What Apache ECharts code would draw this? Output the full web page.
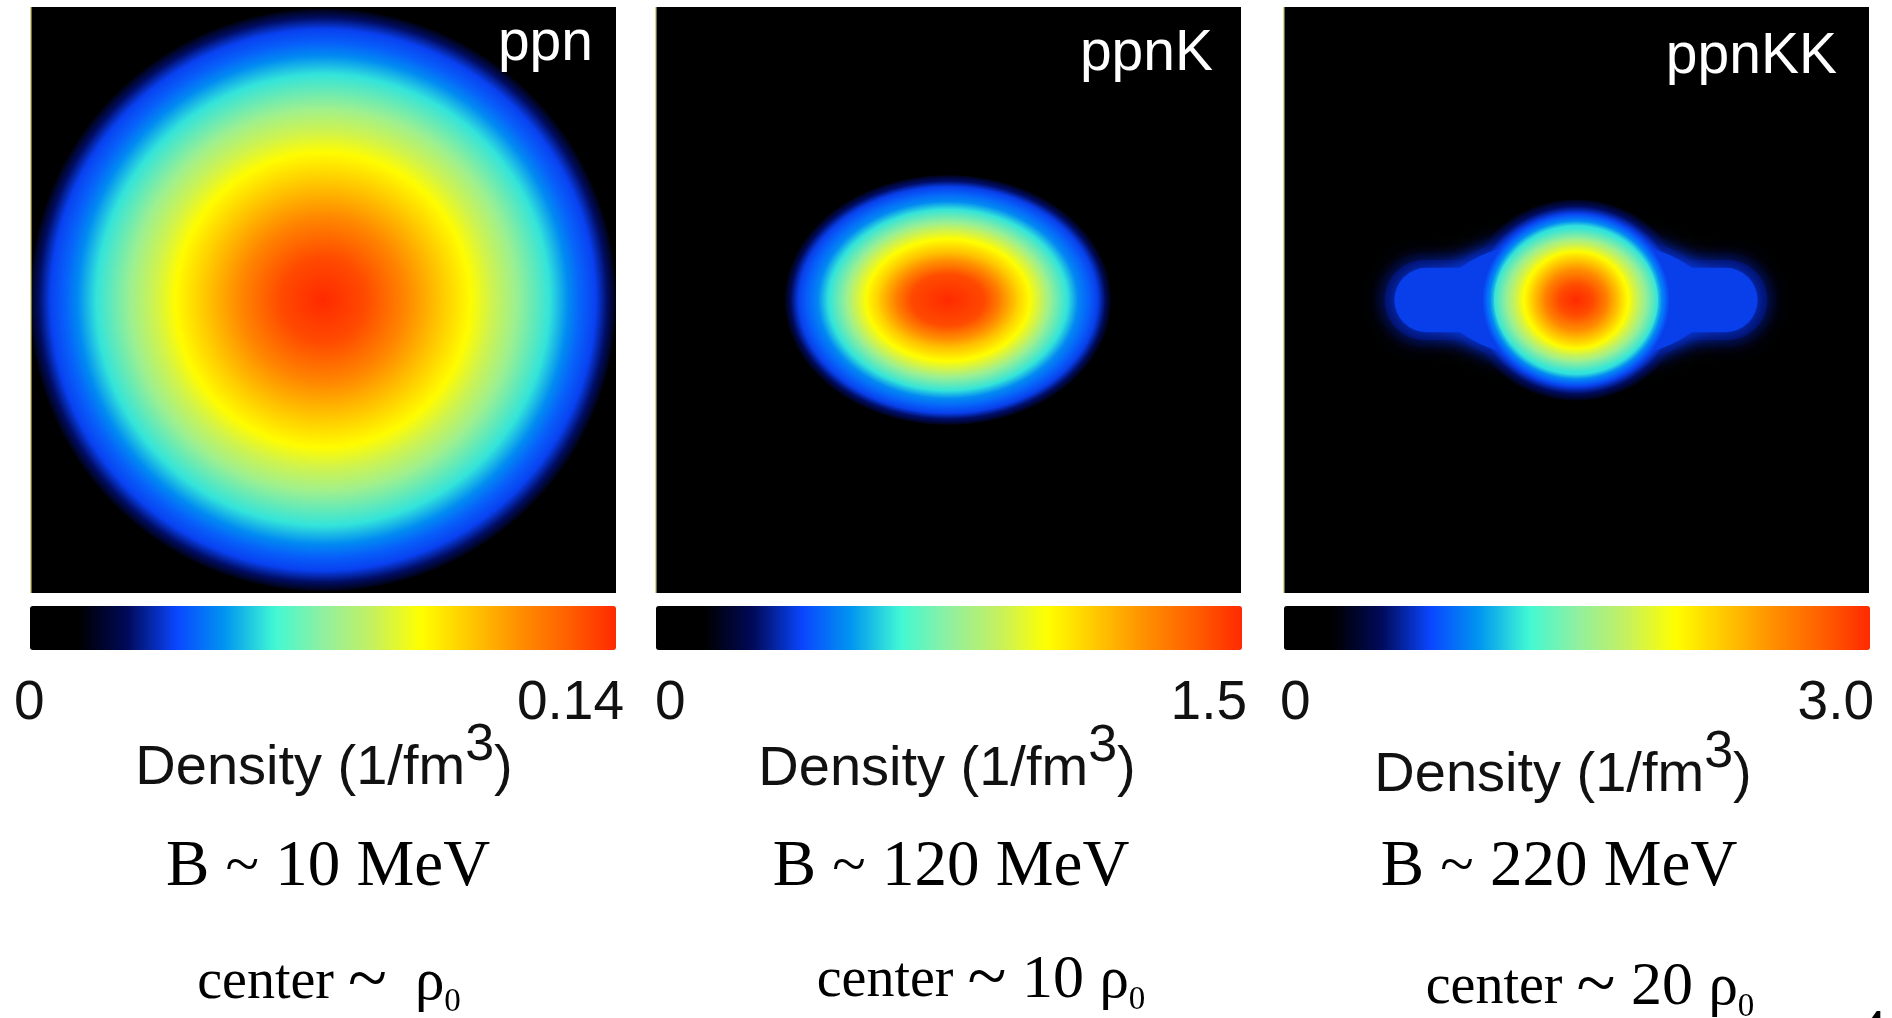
<!DOCTYPE html>
<html>
<head>
<meta charset="utf-8">
<script src="https://cdn.jsdelivr.net/npm/echarts@6/dist/echarts.min.js"></script>
<style>
html, body { margin: 0; padding: 0; background: #ffffff; }
#chart { width: 1892px; height: 1018px; }
</style>
</head>
<body>
<div id="chart"></div>
<script>
// ---------------- data ----------------
const panelNames = ['ppn', 'ppnK', 'ppnKK'];
const densityMax = [0.14, 1.5, 3.0];
const tickLabels = [['0', '0.14'], ['0', '1.5'], ['0', '3.0']];
const axisTitle = 'Density (1/fm';
const axisTitleSup = '3';
const bindingLabels = ['B ~ 10 MeV', 'B ~ 120 MeV', 'B ~ 220 MeV'];
const centerMultiplier = ['', '10', '20'];

// density contour levels (1/fm^3) and the half-width / half-height (fm) of each contour
const ppnLevels = [0.014, 0.024, 0.034, 0.039, 0.045, 0.056, 0.073, 0.084, 0.094, 0.105, 0.119, 0.133, 0.14];
const ppnHalfW  = [3.00, 2.91, 2.79, 2.64, 2.51, 2.32, 1.97, 1.72, 1.51, 1.21, 0.84, 0.43, 0];
const ppnHalfH  = [2.98, 2.89, 2.77, 2.63, 2.50, 2.31, 1.97, 1.72, 1.51, 1.21, 0.84, 0.43, 0];

const ppnKLevels = [0.15, 0.255, 0.36, 0.42, 0.48, 0.60, 0.78, 0.90, 1.005, 1.125, 1.275, 1.425, 1.5];
const ppnKHalfW  = [1.67, 1.61, 1.53, 1.43, 1.33, 1.22, 1.04, 0.94, 0.84, 0.70, 0.55, 0.39, 0];
const ppnKHalfH  = [1.28, 1.22, 1.16, 1.09, 1.01, 0.93, 0.79, 0.71, 0.62, 0.50, 0.38, 0.25, 0];

const ppnKKLevels = [0.30, 0.51, 0.72, 0.84, 0.96, 1.20, 1.56, 1.80, 2.01, 2.25, 2.55, 2.85, 3.0];
const ppnKKHalfW  = [1.12, 1.04, 0.96, 0.92, 0.88, 0.84, 0.70, 0.61, 0.53, 0.44, 0.33, 0.18, 0];
const ppnKKHalfH  = [1.03, 0.96, 0.89, 0.85, 0.81, 0.74, 0.63, 0.56, 0.50, 0.41, 0.29, 0.15, 0];
// horizontal side lobes of the low-density contours, and the waist joining them to the core
const ppnKKLobeW  = [2.05, 1.96, 1.86];
const ppnKKLobeH  = [0.49, 0.41, 0.33];
const ppnKKWaistW = [1.50, 1.44, 1.38];
const ppnKKWaistH = [0.78, 0.71, 0.64];

// ---------------- styling ----------------
const jetColors = ['#000000', '#000000', '#000a5a', '#0a46ff', '#0096f0', '#40f8d4', '#90f0a0',
                   '#c4f060', '#ffff00', '#ffc800', '#ff9000', '#ff6000', '#ff2a00'];
const panelLeft = [30, 655, 1283];
const panelTop = 7, panelSize = 586;
const cbLeft = [30, 656, 1284], cbTop = 606, cbThick = 44, cbLen = 586;
const SANS = 'Liberation Sans', SERIF = 'Liberation Serif';

const panelData = [
  [ppnLevels, ppnHalfW, ppnHalfH, [], [], [], []],
  [ppnKLevels, ppnKHalfW, ppnKHalfH, [], [], [], []],
  [ppnKKLevels, ppnKKHalfW, ppnKKHalfH, ppnKKLobeW, ppnKKLobeH, ppnKKWaistW, ppnKKWaistH]
].map(([lv, hw, hh, lw, lh, ww, wh]) =>
  lv.map((v, k) => [v, hw[k], hh[k], lw[k] || 0, lh[k] || 0, ww[k] || 0, wh[k] || 0]));

function renderContour(params, api) {
  const i = params.dataIndexInside;
  const n = params.dataInsideLength;
  const c = api.coord([0, 0]);
  const sz = api.size([api.value(1), api.value(2)]);
  const rx = sz[0], ry = sz[1];
  const color = api.visual('color');
  const children = [];
  const lw = api.value(3), lh = api.value(4);
  if (lw > 0 && lh > 0) {
    const ls = api.size([lw, lh]);
    children.push({
      type: 'rect',
      shape: { x: c[0] - ls[0], y: c[1] - ls[1], width: 2 * ls[0], height: 2 * ls[1], r: ls[1] },
      style: { fill: color, shadowBlur: 18, shadowColor: color }
    });
  }
  const ww = api.value(5), wh = api.value(6);
  if (ww > 0 && wh > 0) {
    const ws = api.size([ww, wh]);
    children.push({
      type: 'ellipse',
      shape: { cx: c[0], cy: c[1], rx: ws[0], ry: ws[1] },
      style: { fill: color, shadowBlur: 18, shadowColor: color }
    });
  }
  if (rx > 0 && ry > 0) {
    let nextColor = color, t = 0;
    if (i + 1 < n) {
      nextColor = api.visual('color', i + 1);
      const ns = api.size([api.value(1, i + 1), api.value(2, i + 1)]);
      t = Math.min(0.999, (ns[0] / rx + ns[1] / ry) / 2);
    }
    children.push({
      type: 'circle',
      shape: { cx: 0, cy: 0, r: ry },
      x: c[0], y: c[1], scaleX: rx / ry, scaleY: 1,
      style: {
        fill: new echarts.graphic.RadialGradient(0.5, 0.5, 0.5, [
          { offset: 0, color: nextColor },
          { offset: t, color: nextColor },
          { offset: 1, color: color }
        ])
      }
    });
  }
  return { type: 'group', children: children };
}

const graphics = [];
// panel labels
const labelRight = [593, 1213, 1837];
const labelMid = [44, 54, 57];
panelNames.forEach((name, k) => {
  graphics.push({ type: 'text', silent: true, z: 100, style: {
    text: name, x: labelRight[k], y: labelMid[k], fill: '#ffffff',
    fontSize: 57, fontFamily: SANS, align: 'right', verticalAlign: 'middle' } });
});
// faint left edge lines of the panels
panelLeft.forEach((x) => {
  graphics.push({ type: 'rect', silent: true, z: 100,
    shape: { x: x, y: panelTop, width: 1.5, height: panelSize }, style: { fill: '#ddd48e' } });
});
// tick labels
const tickLeftX = [14, 655, 1280], tickRightX = [624, 1247, 1874], tickMid = 704;
tickLabels.forEach((tk, k) => {
  graphics.push({ type: 'text', silent: true, style: { text: tk[0], x: tickLeftX[k], y: tickMid,
    fill: '#111', fontSize: 55, fontFamily: SANS, align: 'left', verticalAlign: 'middle' } });
  graphics.push({ type: 'text', silent: true, style: { text: tk[1], x: tickRightX[k], y: tickMid,
    fill: '#111', fontSize: 55, fontFamily: SANS, align: 'right', verticalAlign: 'middle' } });
});
// density titles
const titleX = [324, 947, 1563], titleMid = [769, 770, 776];
titleX.forEach((x, k) => {
  graphics.push({ type: 'text', silent: true, style: {
    text: '{a|' + axisTitle + '}{s|' + axisTitleSup + '}{a|)}',
    x: x, y: titleMid[k], align: 'center', verticalAlign: 'middle',
    rich: {
      a: { fontSize: 56, fontFamily: SANS, fill: '#111', lineHeight: 56, verticalAlign: 'middle' },
      s: { fontSize: 52, fontFamily: SANS, fill: '#111', lineHeight: 52, padding: [0, 0, 46, 0], verticalAlign: 'middle' }
    } } });
});
// binding energies
const bX = [328, 951, 1559], bMid = 868;
bindingLabels.forEach((txt, k) => {
  const parts = txt.split('~');
  graphics.push({ type: 'text', silent: true, style: {
    text: '{b|' + parts[0] + '}{t|~}{b|' + parts[1] + '}',
    x: bX[k], y: bMid, align: 'center', verticalAlign: 'middle',
    rich: {
      b: { fontSize: 65, fontFamily: SERIF, fill: '#000', verticalAlign: 'middle' },
      t: { fontSize: 62, fontFamily: SERIF, fill: '#000', verticalAlign: 'middle' }
    } } });
});
// central densities
const cX = [329, 981, 1590], cMid = [983, 981, 988];
centerMultiplier.forEach((m, k) => {
  const mid = m === '' ? '{c|  }' : '{n| ' + m + ' }';
  graphics.push({ type: 'text', silent: true, style: {
    text: '{c|center }{t|~}' + mid + '{r|ρ}{s|0}',
    x: cX[k], y: cMid[k], align: 'center', verticalAlign: 'middle',
    rich: {
      c: { fontSize: 56, fontFamily: SERIF, fill: '#000', lineHeight: 56, verticalAlign: 'middle' },
      t: { fontSize: 72, fontFamily: SERIF, fill: '#000', lineHeight: 56, verticalAlign: 'middle' },
      n: { fontSize: 62, fontFamily: SERIF, fill: '#000', lineHeight: 62, verticalAlign: 'middle' },
      r: { fontSize: 59, fontFamily: SERIF, fill: '#000', lineHeight: 59, verticalAlign: 'middle' },
      s: { fontSize: 33, fontFamily: SERIF, fill: '#000', lineHeight: 33, padding: [38, 0, 0, 0], verticalAlign: 'middle' }
    } } });
});
// cut-off page number at bottom right
graphics.push({ type: 'text', silent: true, style: { text: '4', x: 1855, y: 1036,
  fill: '#000', fontSize: 64, fontFamily: SERIF, align: 'left', verticalAlign: 'middle' } });

const option = {
  animation: false,
  backgroundColor: '#ffffff',
  grid: panelLeft.map((x) => ({ left: x, top: panelTop, width: panelSize, height: panelSize,
    show: true, backgroundColor: '#000000', borderWidth: 0 })),
  xAxis: panelLeft.map((x, k) => ({ type: 'value', gridIndex: k, min: -3, max: 3, show: false })),
  yAxis: panelLeft.map((x, k) => ({ type: 'value', gridIndex: k, min: -3, max: 3, show: false })),
  visualMap: densityMax.map((mx, k) => ({
    type: 'continuous', seriesIndex: k, dimension: 0, min: 0, max: mx,
    orient: 'horizontal', left: cbLeft[k], top: cbTop, itemWidth: cbThick, itemHeight: cbLen,
    calculable: false, realtime: false, hoverLink: false, padding: 0,
    inRange: { color: jetColors }
  })),
  series: panelData.map((data, k) => ({
    type: 'custom', coordinateSystem: 'cartesian2d', xAxisIndex: k, yAxisIndex: k,
    clip: true, silent: true, encode: { x: 1, y: 2 },
    data: data, renderItem: renderContour
  })),
  graphic: graphics
};

const chart = echarts.init(document.getElementById('chart'), null, { renderer: 'canvas' });
chart.setOption(option);
</script>
</body>
</html>
